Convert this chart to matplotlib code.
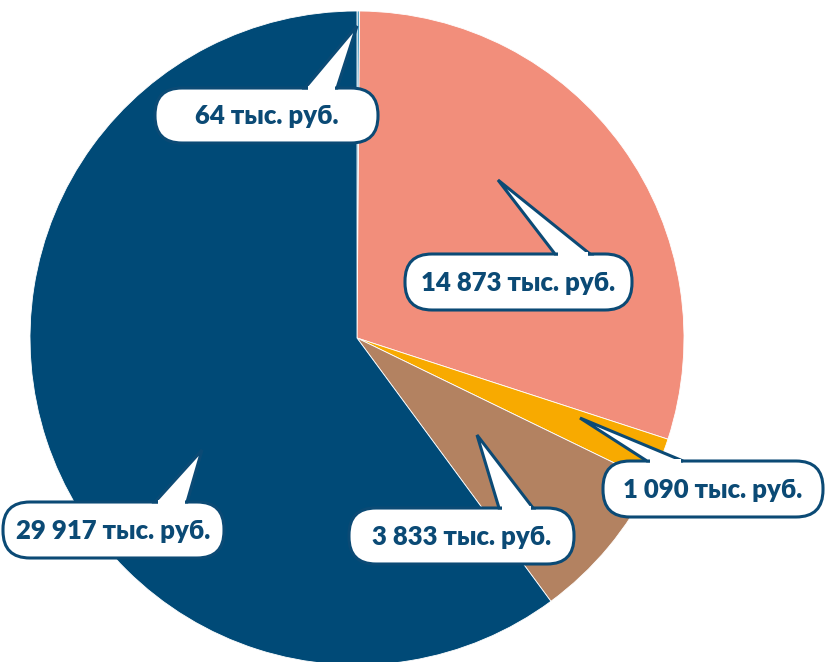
import matplotlib
matplotlib.use("Agg")
import matplotlib.pyplot as plt
from matplotlib.patches import FancyBboxPatch, Polygon, Rectangle

W, H = 825, 662

# data
values = [64, 14873, 1090, 3833, 29917]
labels = ["64 тыс. руб.", "14 873 тыс. руб.", "1 090 тыс. руб.",
          "3 833 тыс. руб.", "29 917 тыс. руб."]
colors = ["#4f9fc4", "#f28e7b", "#f8aa00", "#b38261", "#004a77"]

# bubble layout in pixel coords (left, top, right, bottom), tail tip, tail base x
boxes = [(155, 88, 378, 143), (405, 254, 632, 310), (603, 461, 823, 517),
         (349, 508, 574, 564), (3, 502, 224, 558)]
tips = [(357, 26), (498, 180), (580, 418), (477, 435), (202, 450)]
bases = [(305, 337), (555, 590), (647, 683), (499, 533), (155, 187)]

navy = "#0b4a75"

fig = plt.figure(figsize=(W / 100, H / 100), dpi=100)
ax = fig.add_axes([0, 0, 1, 1])


def py(y):
    return H - y


ax.pie(values, colors=colors, startangle=90, counterclock=False,
       center=(357, py(338)), radius=327, frame=True,
       wedgeprops=dict(edgecolor="white", linewidth=0.6))
ax.set_xlim(0, W)
ax.set_ylim(0, H)
ax.set_aspect("equal")
ax.axis("off")

lw = 2.2
for (l, t, r, b), tip, base, txt in zip(boxes, tips, bases, labels):
    box = FancyBboxPatch((l, py(b)), r - l, b - t,
                         boxstyle="round,pad=0,rounding_size=27",
                         facecolor="white", edgecolor=navy, linewidth=lw, zorder=3)
    ax.add_patch(box)
    tail = Polygon([(base[0], py(t)), (tip[0], py(tip[1])), (base[1], py(t))],
                   closed=True, facecolor="white", edgecolor=navy,
                   linewidth=lw, joinstyle="miter", zorder=4)
    ax.add_patch(tail)
    # hide the seam between tail and box
    ax.add_patch(Rectangle((base[0] + 2.5, py(t) - 3), base[1] - base[0] - 5, 5,
                           facecolor="white", edgecolor="none", zorder=5))
    ax.text((l + r) / 2, py((t + b) / 2) - 1, txt, ha="center", va="center",
            color=navy, fontsize=18.5, fontweight="heavy", family="Lato", zorder=6)

fig.savefig("out.png", dpi=100)
